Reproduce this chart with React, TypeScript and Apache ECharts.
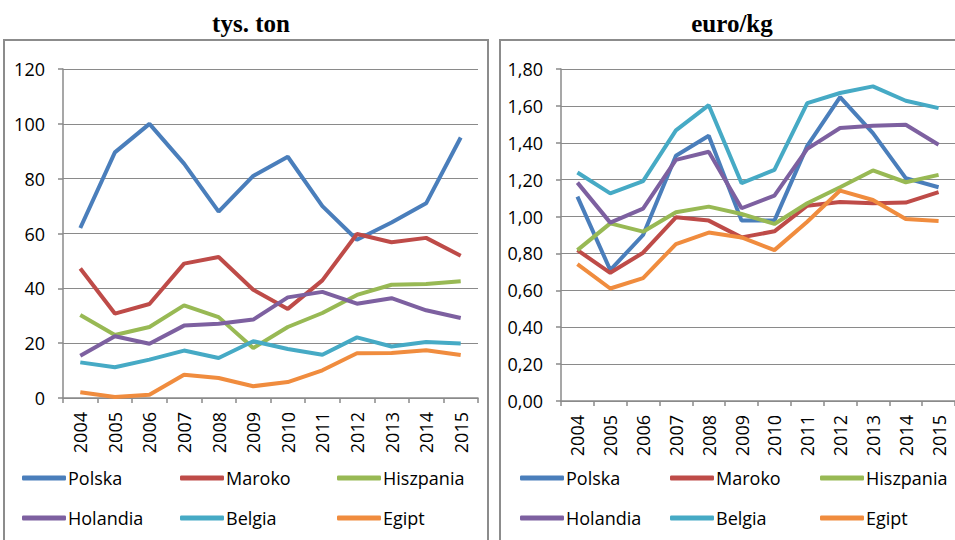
import React, { useEffect, useRef } from "react";
import * as echarts from "echarts";

const years = ["2004", "2005", "2006", "2007", "2008", "2009", "2010", "2011", "2012", "2013", "2014", "2015"];
const countries = ["Polska", "Maroko", "Hiszpania", "Holandia", "Belgia", "Egipt"];
const colors = ["#4A7EBB", "#BE4B48", "#98B954", "#7D60A0", "#46AAC5", "#F08C3E"];

// tys. ton
const volPolska = [62, 89.6, 100, 85.5, 68, 81, 88, 70, 57.7, 64, 71, 95];
const volMaroko = [47.2, 30.8, 34.3, 49, 51.4, 39.5, 32.5, 42.9, 59.8, 56.8, 58.4, 51.9];
const volHiszpania = [30.3, 23, 25.9, 33.8, 29.5, 18.2, 25.9, 31, 37.6, 41.3, 41.6, 42.6];
const volHolandia = [15.4, 22.5, 19.8, 26.4, 27.1, 28.6, 36.7, 38.7, 34.4, 36.4, 32, 29.2];
const volBelgia = [13, 11.2, 14, 17.3, 14.6, 20.7, 17.9, 15.8, 22.1, 18.8, 20.4, 19.9];
const volEgipt = [2.1, 0.4, 1.2, 8.5, 7.3, 4.3, 5.8, 10.1, 16.3, 16.4, 17.4, 15.7];

// euro/kg
const pricePolska = [1.108, 0.71, 0.9, 1.33, 1.438, 0.978, 0.978, 1.383, 1.648, 1.452, 1.208, 1.159];
const priceMaroko = [0.818, 0.695, 0.804, 0.996, 0.978, 0.887, 0.92, 1.059, 1.079, 1.072, 1.076, 1.132];
const priceHiszpania = [0.818, 0.963, 0.918, 1.023, 1.054, 1.014, 0.96, 1.072, 1.159, 1.25, 1.186, 1.226];
const priceHolandia = [1.184, 0.967, 1.043, 1.307, 1.351, 1.045, 1.114, 1.367, 1.48, 1.492, 1.498, 1.389];
const priceBelgia = [1.239, 1.126, 1.192, 1.467, 1.604, 1.181, 1.253, 1.615, 1.67, 1.706, 1.628, 1.588];
const priceEgipt = [0.742, 0.61, 0.666, 0.851, 0.913, 0.887, 0.818, 0.972, 1.141, 1.09, 0.987, 0.976];

const volumeData = [volPolska, volMaroko, volHiszpania, volHolandia, volBelgia, volEgipt];
const priceData = [pricePolska, priceMaroko, priceHiszpania, priceHolandia, priceBelgia, priceEgipt];

const volTicks = { min: 0, max: 120, interval: 20 };
const priceTicks = { min: 0, max: 1.8, interval: 0.2 };

const FONT = "'Open Sans', 'Liberation Sans', sans-serif";
const GRID_COLOR = "#8a8a8a";

export default function App() {
  const ref = useRef<HTMLDivElement>(null);

  useEffect(() => {
    if (!ref.current) return;
    const chart = echarts.init(ref.current, null, { renderer: "svg" });

    const xAxisBase = (gridIndex: number) => ({
      type: "category",
      gridIndex,
      data: years,
      boundaryGap: true,
      axisLine: { show: true, lineStyle: { color: GRID_COLOR, width: 1.5 } },
      axisTick: { show: true, length: 5, lineStyle: { color: GRID_COLOR, width: 1.5 } },
      axisLabel: { rotate: 90, margin: 14, color: "#000", fontSize: 18, fontFamily: FONT },
    });

    const yAxisBase = (gridIndex: number, ticks: any, fmt: (v: number) => string) => ({
      type: "value",
      gridIndex,
      min: ticks.min,
      max: ticks.max,
      interval: ticks.interval,
      axisLine: { show: true, lineStyle: { color: GRID_COLOR, width: 1.5 } },
      axisTick: { show: true, length: 5, lineStyle: { color: GRID_COLOR, width: 1.5 } },
      splitLine: { show: true, lineStyle: { color: GRID_COLOR, width: 1 } },
      axisLabel: { margin: 18, color: "#000", fontSize: 18, fontFamily: FONT, formatter: fmt },
    });

    const series: any[] = [];
    countries.forEach((name, i) => {
      series.push({
        name,
        type: "line",
        xAxisIndex: 0,
        yAxisIndex: 0,
        data: volumeData[i],
        symbol: "none",
        lineStyle: { width: 4, color: colors[i] },
        itemStyle: { color: colors[i] },
      });
      series.push({
        name,
        type: "line",
        xAxisIndex: 1,
        yAxisIndex: 1,
        data: priceData[i],
        symbol: "none",
        lineStyle: { width: 4, color: colors[i] },
        itemStyle: { color: colors[i] },
      });
    });

    const legendCols = [22, 180, 337];
    const legendColsRight = [520, 670, 820];
    const legendRows = [469, 509];
    const legends: any[] = [];
    [legendCols, legendColsRight].forEach((cols) => {
      countries.forEach((name, i) => {
        legends.push({
          data: [name],
          left: cols[i % 3],
          top: legendRows[Math.floor(i / 3)],
          icon: "roundRect",
          itemWidth: 44,
          itemHeight: 5,
          itemGap: 0,
          padding: 0,
          textStyle: { fontSize: 18, fontFamily: FONT, color: "#000", padding: [0, 0, 0, -3] },
          selectedMode: false,
        });
      });
    });

    chart.setOption({
      animation: false,
      title: [
        {
          text: "tys. ton",
          left: 246,
          top: 6,
          textAlign: "center",
          textStyle: { fontFamily: "'Liberation Serif', serif", fontWeight: "bold", fontSize: 25, color: "#000" },
        },
        {
          text: "euro/kg",
          left: 727,
          top: 6,
          textAlign: "center",
          textStyle: { fontFamily: "'Liberation Serif', serif", fontWeight: "bold", fontSize: 25, color: "#000" },
        },
      ],
      legend: legends,
      grid: [
        { left: 63, right: 477, top: 69, bottom: 142 },
        { left: 561, right: -10, top: 69, bottom: 139 },
      ],
      xAxis: [xAxisBase(0), xAxisBase(1)],
      yAxis: [
        yAxisBase(0, volTicks, (v: number) => String(v)),
        yAxisBase(1, priceTicks, (v: number) => v.toFixed(2).replace(".", ",")),
      ],
      series,
      graphic: [
        {
          type: "rect",
          shape: { x: 4, y: 40, width: 484, height: 520 },
          style: { fill: "none", stroke: "#8c8c8c", lineWidth: 2 },
          silent: true,
        },
        {
          type: "rect",
          shape: { x: 500, y: 40, width: 480, height: 520 },
          style: { fill: "none", stroke: "#8c8c8c", lineWidth: 2 },
          silent: true,
        },
      ],
    });

    return () => chart.dispose();
  }, []);

  return (
    <div
      ref={ref}
      style={{ position: "fixed", left: 0, top: 0, width: 955, height: 540, background: "#fff" }}
    />
  );
}
